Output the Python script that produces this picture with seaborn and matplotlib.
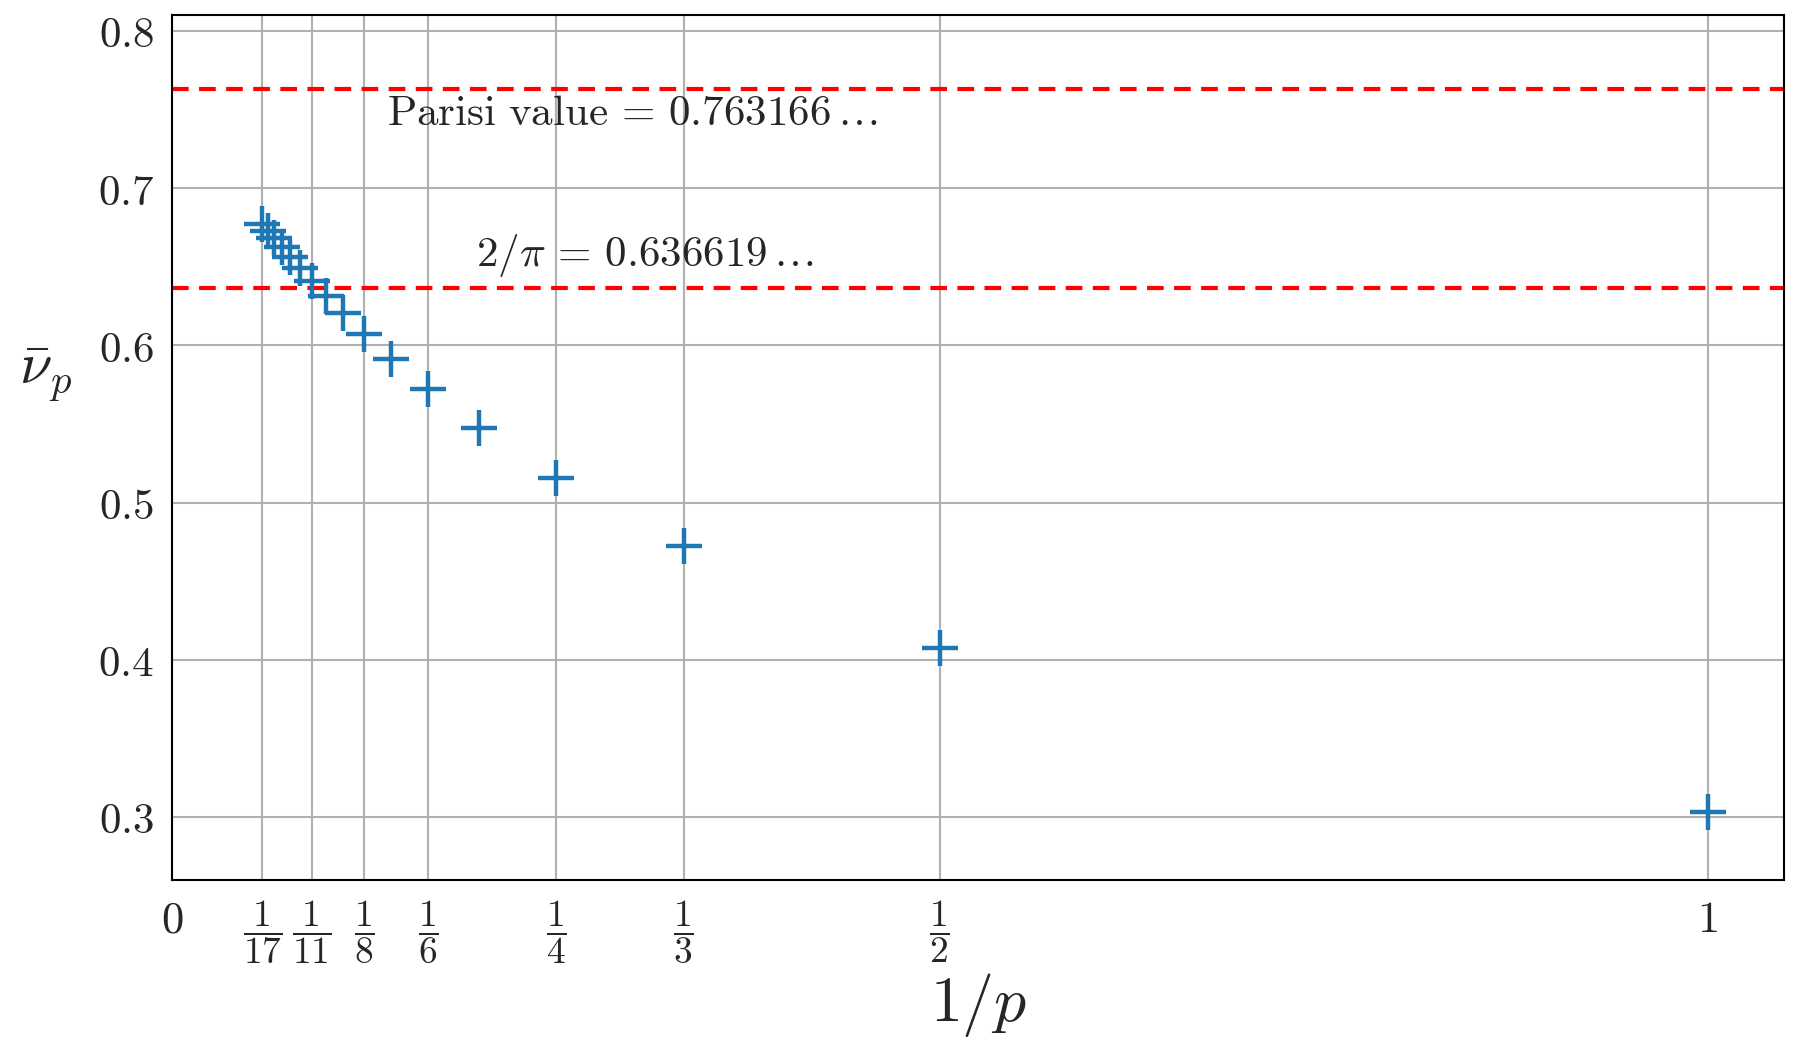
import numpy as np
import pandas as pd
import matplotlib
matplotlib.use("Agg")
import matplotlib.pyplot as plt
import seaborn as sns

# depth p and the value
p_values = [1, 2, 3, 4, 5, 6, 7, 8, 9, 10, 11, 12, 13, 14, 15, 16, 17]
nu_bar = [0.3033, 0.4075, 0.4726, 0.5157, 0.5476, 0.5721, 0.5915, 0.6073,
          0.6203, 0.6314, 0.6408, 0.6490, 0.6561, 0.6623, 0.6679, 0.6729, 0.6773]

tick_denoms = [17, 11, 8, 6, 4, 3, 2]
y_ticks = [0.3, 0.4, 0.5, 0.6, 0.7, 0.8]

parisi = 0.763166
two_over_pi = 2 / np.pi

df = pd.DataFrame({"inv_p": [1 / p for p in p_values], "nu": nu_bar})

sns.set_style("whitegrid")
plt.rcParams["mathtext.fontset"] = "cm"
plt.rcParams["font.family"] = ["DejaVu Serif"]

fig = plt.figure(figsize=(17.97, 10.45), dpi=100)
ax = fig.add_axes([0.0957, 0.158, 0.8973, 0.8276])

ax.axhline(parisi, color="red", ls="--", lw=3, dashes=(4, 2.5), zorder=2)
ax.axhline(two_over_pi, color="red", ls="--", lw=3, dashes=(4, 2.5), zorder=2)

sns.scatterplot(data=df, x="inv_p", y="nu", marker="+", s=650, linewidth=3.2,
                color="#1f77b4", ax=ax, zorder=3)

ax.text(0.14, 0.7476, r"$\mathrm{Parisi\ value} \,=\, 0.763166\,\ldots$",
        fontsize=31, va="center", ha="left")
ax.text(0.198, 0.6574, r"$2/\pi \,=\, 0.636619\,\ldots$",
        fontsize=31, va="center", ha="left")

xt = [0] + [1 / d for d in tick_denoms] + [1]
xl = ["$0$"] + [r"$\dfrac{1}{%d}$" % d for d in tick_denoms] + ["$1$"]
ax.set_xticks(xt)
ax.set_xticklabels(xl, fontsize=27)
for lab in ax.get_xticklabels()[:1] + ax.get_xticklabels()[-1:]:
    lab.set_fontsize(32)
ax.set_yticks(y_ticks)
ax.set_yticklabels(["$%.1f$" % v for v in y_ticks], fontsize=31)

ax.set_xlim(0, 1.05)
ax.set_ylim(0.26, 0.81)

ax.grid(True, color="#b0b0b0", lw=1.5)
for s in ax.spines.values():
    s.set_color("black")
    s.set_linewidth(1.5)
ax.tick_params(axis="both", direction="out", length=7, width=1.5, color="black",
               pad=6)

ax.set_xlabel("$1/p$", fontsize=46, labelpad=4)
ax.set_ylabel(r"$\bar{\nu}_p$", fontsize=42, rotation=0, labelpad=30)
ax.yaxis.set_label_coords(-0.078, 0.55)

fig.savefig("out.png", dpi=100)
